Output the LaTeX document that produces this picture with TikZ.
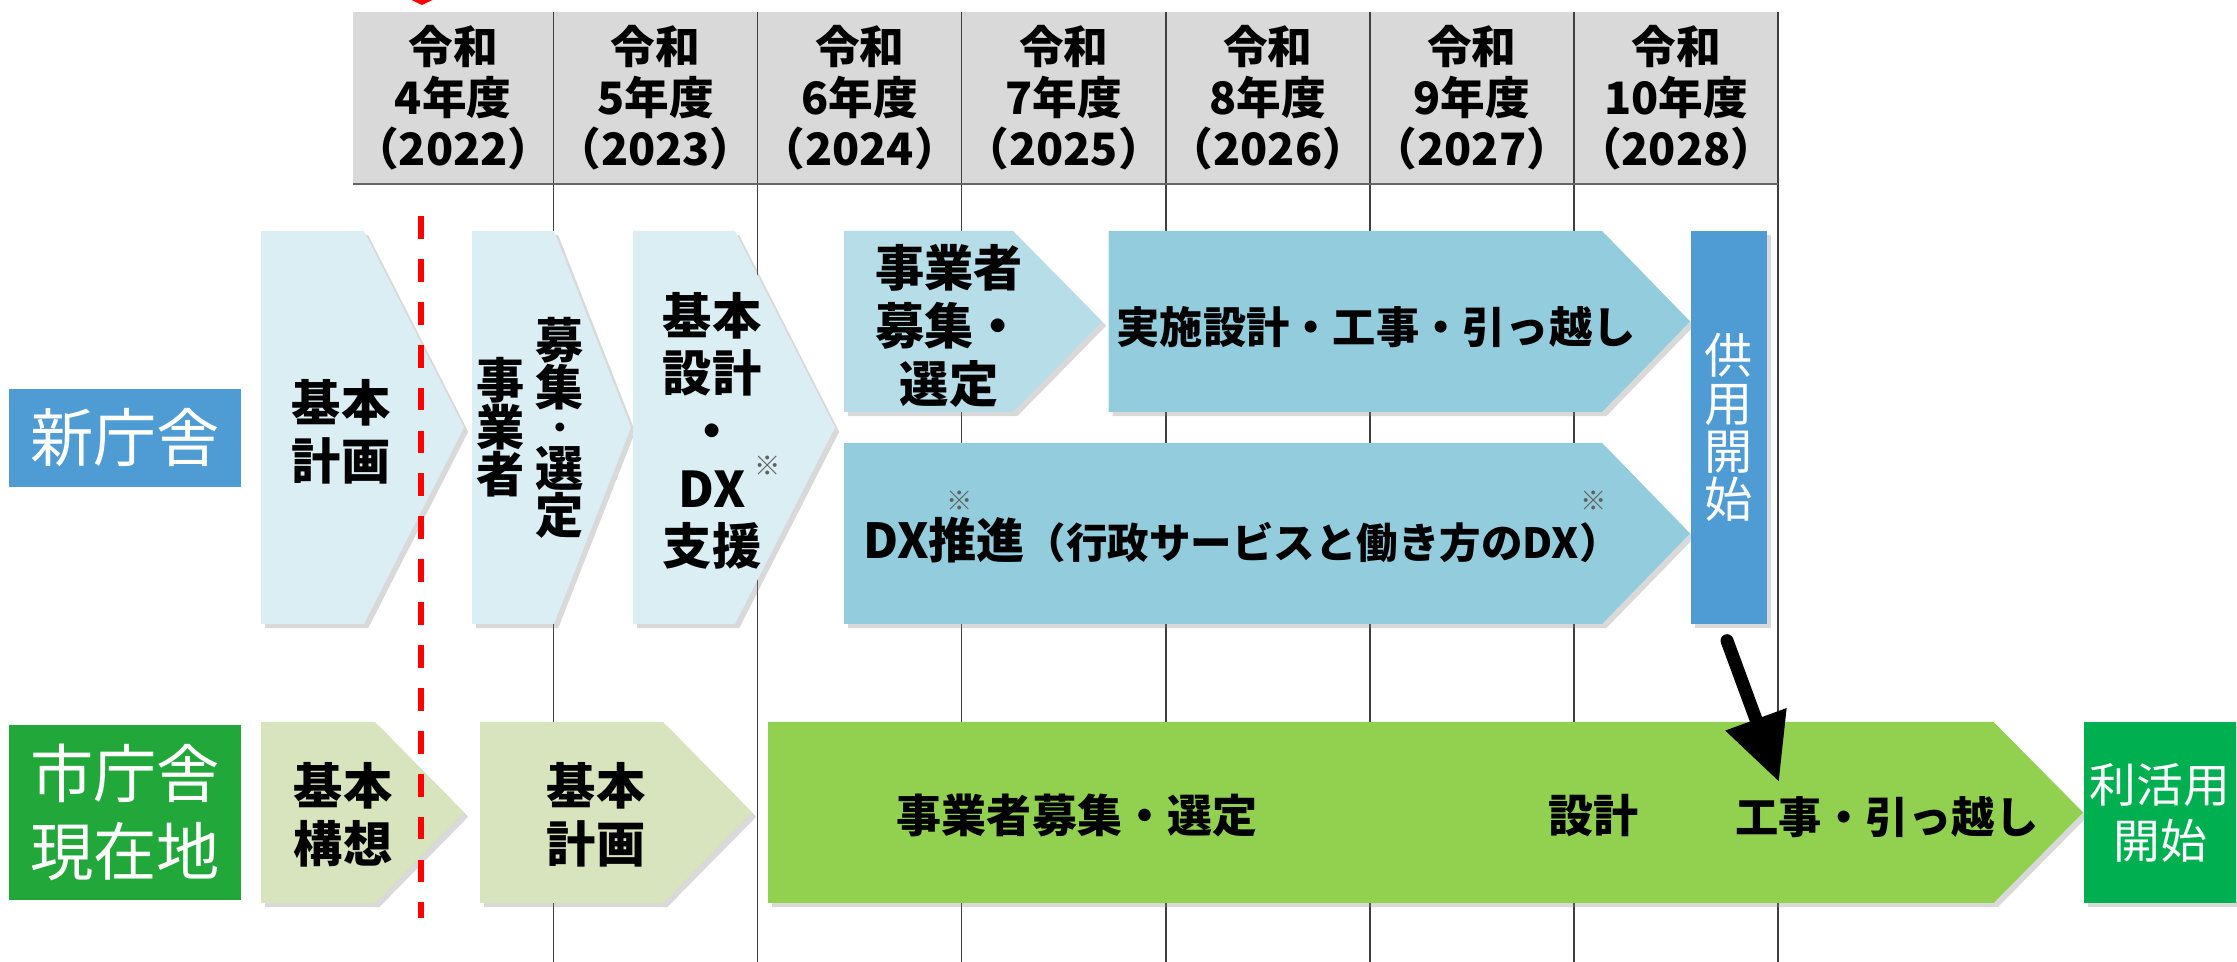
\documentclass[tikz,border=0pt]{standalone}
\usepackage{fontspec}
\setmainfont{Noto Sans CJK JP}
\usetikzlibrary{positioning,shadows,arrows.meta}

\definecolor{hdrgray}{HTML}{D9D9D9}
\definecolor{pale}{HTML}{DAEEF3}
\definecolor{soft}{HTML}{B7DEE8}
\definecolor{mid}{HTML}{93CDDD}
\definecolor{newblue}{HTML}{4F9BD3}
\definecolor{palegreen}{HTML}{D7E4BD}
\definecolor{leaf}{HTML}{92D050}
\definecolor{deepgreen}{HTML}{00B050}
\definecolor{curgreen}{HTML}{22A83A}
\definecolor{komegray}{HTML}{606060}

\newlength{\pxu}\setlength{\pxu}{0.01cm}

% phase arrow: style, left, top, back, tip, bottom
\newcommand{\penta}[6]{\fill[#1] (#2,#3) -- (#4,#3) -- (#5,{(#3+#6)/2}) -- (#4,#6) -- (#2,#6) -- cycle;}
% small note mark
\newcommand{\kome}[2][1pt]{\rlap{\hspace{#1}\smash{\raisebox{#2}{\mdseries\color{komegray}\fontsize{7.5}{8}\selectfont ※}}}}

\begin{document}
\begin{tikzpicture}[x=0.01cm,y=-0.01cm,
    yearcell/.style={fill=hdrgray,minimum width=204.1\pxu,minimum height=172\pxu,inner sep=0pt,outer sep=0pt,align=center,font=\fontsize{12.7}{14.5}\selectfont\bfseries},
    gridline/.style={draw=black!75,line width=0.4pt},
    hdrline/.style={draw=black!60,line width=0.8pt},
    rowlabel/.style={text=white,minimum width=232\pxu,inner sep=0pt,align=center,font=\fontsize{18}{22.2}\selectfont},
    boxshadow/.style={drop shadow={shadow xshift=1.2pt,shadow yshift=-1.2pt,opacity=.3}},
    stagetext/.style={inner sep=0pt,align=center,font=\fontsize{14}{16.4}\selectfont\bfseries},
    tatetext/.style={inner sep=0pt,align=center,font=\fontsize{13.7}{13.4}\selectfont\bfseries},
    greentext/.style={inner sep=0pt,font=\fontsize{12.8}{15.6}\selectfont\bfseries},
    startbox/.style={text=white,inner sep=0pt,align=center,boxshadow},
    nowline/.style={red,line width=1.7pt,dash pattern=on 6.5pt off 5.7pt},
    movearrow/.style={line width=3.7pt,line cap=round,-{Triangle[length=19pt,width=17.5pt]}}]
  \useasboundingbox (0,0) rectangle (2237,962);
  \coordinate (bottom) at (0,962);

  % year header
  \node[yearcell,minimum width=200.5\pxu] (y4) at (453.25,98) {令和\\4年度\\（2022）};
  \node[yearcell,right=0pt of y4] (y5) {令和\\5年度\\（2023）};
  \node[yearcell,right=0pt of y5] (y6) {令和\\6年度\\（2024）};
  \node[yearcell,right=0pt of y6] (y7) {令和\\7年度\\（2025）};
  \node[yearcell,right=0pt of y7] (y8) {令和\\8年度\\（2026）};
  \node[yearcell,right=0pt of y8] (y9) {令和\\9年度\\（2027）};
  \node[yearcell,right=0pt of y9] (y10) {令和\\10年度\\（2028）};
  \draw[gridline] (y4.north east) -- (y4.north east |- bottom);
  \draw[gridline] (y5.north east) -- (y5.north east |- bottom);
  \draw[gridline] (y6.north east) -- (y6.north east |- bottom);
  \draw[gridline] (y7.north east) -- (y7.north east |- bottom);
  \draw[gridline] (y8.north east) -- (y8.north east |- bottom);
  \draw[gridline] (y9.north east) -- (y9.north east |- bottom);
  \draw[gridline] (y10.north east) -- (y10.north east |- bottom);
  \draw[hdrline] (y4.south west) -- (y10.south east);

  % row labels
  \node[rowlabel,fill=newblue,minimum height=98\pxu] (newlbl) at (125,438) {新庁舎};
  \node[rowlabel,fill=curgreen,minimum height=175\pxu] (curlbl) at (125,812.5) {市庁舎\\現在地};

  % new building
  \penta{pale,boxshadow}{261}{231}{364}{464}{624}
  \penta{pale,boxshadow}{472}{231}{554}{631}{624}
  \penta{pale,boxshadow}{633}{231}{735}{835}{624}
  \penta{soft,boxshadow}{844}{231}{1013}{1102}{412}
  \penta{mid,boxshadow}{1108.5}{231}{1602}{1690}{412}
  \penta{mid,boxshadow}{844}{443}{1602}{1690}{624}
  \node[startbox,fill=newblue,minimum width=76\pxu,minimum height=393\pxu,font=\fontsize{13.7}{13.66}\selectfont] (open) at (1729,427.5) {供\\用\\開\\始};

  \node[stagetext] (plan1) at (341,432) {基本\\計画};
  \node[tatetext] (selA) at (560,427.5) {募\\集\\[-13\pxu]{\fontsize{9}{9}\selectfont ・}\\[-0.5\pxu]選\\定};
  \node[tatetext,left=10\pxu of selA] (selB) {事\\業\\者};
  \node[stagetext] (basic) at (712,431) {基本\\設計\\・\\DX\kome[2.5pt]{9pt}\\支援};
  \node[stagetext] (sel2) at (949,326) {事業者\\募集・\\選定};
  \node[stagetext,font=\fontsize{12.3}{16}\selectfont\bfseries] (build) at (1376,327) {実施設計・工事・引っ越し};
  \node[stagetext,font=\fontsize{13.7}{16.4}\selectfont\bfseries] (dx) at (1242,540) {DX\kome[5pt]{13.5pt}推進{\fontsize{11.8}{14}\selectfont（行政サービスと働き方のDX\kome[0.5pt]{13.5pt}）}};

  % current site
  \penta{palegreen,boxshadow}{261}{722}{375}{464}{903}
  \penta{palegreen,boxshadow}{480}{722}{663}{752}{903}
  \penta{leaf,boxshadow}{768}{722}{1993.5}{2083}{903}
  \node[startbox,fill=deepgreen,minimum width=152\pxu,minimum height=181\pxu,font=\fontsize{13.3}{15.9}\selectfont] (reuse) at (2160,812.5) {利活用\\開始};

  \node[stagetext] (concept) at (343,815) {基本\\構想};
  \node[stagetext] (plan2) at (596,815) {基本\\計画};
  \node[greentext] (sel3) at (1077,816) {事業者募集・選定};
  \node[greentext] (design) at (1593,816) {設計};
  \node[greentext,font=\fontsize{12.3}{15.6}\selectfont\bfseries] (works) at (1887,817) {工事・引っ越し};

  % today marker
  \fill[red] (403,-4) -- (441,-4) -- (422,5) -- cycle;
  \draw[nowline] (421,216) -- (421,918);

  \coordinate (landing) at (1779,782);
  \draw[movearrow] ([xshift=-2\pxu,yshift=-16\pxu]open.south) -- (landing);
\end{tikzpicture}
\end{document}
